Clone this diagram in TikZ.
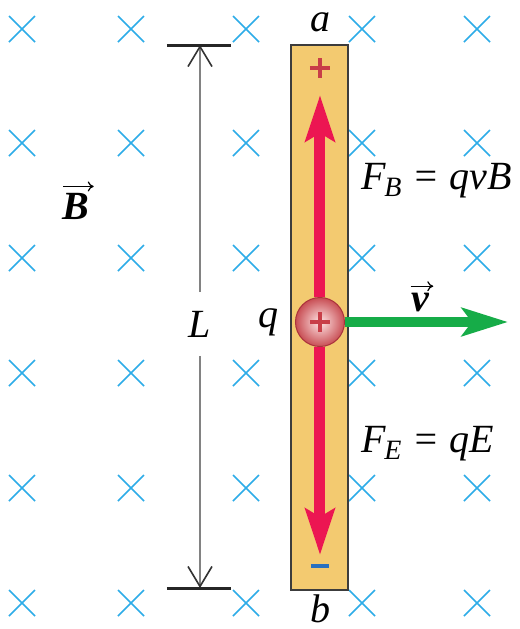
\documentclass[tikz,border=0pt]{standalone}
\usepackage{fontspec}
\setmainfont{Liberation Serif}
\usetikzlibrary{arrows.meta,positioning}
\definecolor{FieldBlue}{RGB}{45,172,232}
\definecolor{RodGold}{RGB}{243,202,112}
\definecolor{ForceRed}{RGB}{236,22,82}
\definecolor{VelGreen}{RGB}{22,172,72}
\definecolor{PlusRed}{RGB}{200,62,72}
\definecolor{MinusBlue}{RGB}{40,112,192}
\definecolor{DimGray}{RGB}{130,130,130}

\begin{document}
\begin{tikzpicture}[x=0.5pt,y=-0.5pt,font=\fontsize{20}{24}\selectfont\itshape,cross/.style={draw=FieldBlue,line width=0.85pt},rod/.style={rectangle,draw={rgb,255:red,60;green,60;blue,60},line width=0.6pt,fill=RodGold,minimum width=28.5pt,minimum height=272.5pt,inner sep=0pt},force/.style={draw=ForceRed,line width=5.5pt,-{Stealth[length=23pt,width=14.5pt,inset=4pt]}},velo/.style={draw=VelGreen,line width=5pt,-{Stealth[length=23pt,width=14pt,inset=5pt]}},dim/.style={draw=DimGray,line width=0.9pt,-{Straight Barb[length=10pt,width=12pt,color=black!80,line width=0.8pt]}},bar/.style={draw=black!85,line width=1.5pt},sign/.style={line width=1.6pt},vecmark/.style={draw=black,line width=0.6pt,-{To[length=3pt,width=5pt]}}]
\useasboundingbox[fill=white](0,0) rectangle (520,629);
% field into the page
\foreach \cx in {22,131,246,362,477}{
  \foreach \cy in {29,143,258,373,488,603}{
    \draw[cross](\cx-13,\cy-13)--(\cx+13,\cy+13) (\cx-13,\cy+13)--(\cx+13,\cy-13);
  }
}
\node[rod](rod) at (319.5,317.5){};
\node[circle,minimum size=24.5pt,inner sep=0pt,inner color=red!10,outer color={rgb,255:red,200;green,78;blue,84},draw={rgb,255:red,170;green,50;blue,60},line width=0.5pt](charge) at (320,322){};
\coordinate (tipa) at (320,95);
\coordinate (tipb) at (320,555);
\coordinate (vtip) at (508,322);
\coordinate (plusmark) at (320,68);
\coordinate (minusmark) at (320,566);
\coordinate (dimtop) at (200,45);
\coordinate (dimbot) at (200,588);
\node[inner sep=0pt,minimum height=31.5pt](len) at (200,324){L};
% forces and velocity
\draw[force](charge)--(tipa);
\draw[force](charge)--(tipb);
\draw[velo](charge)--(vtip);
\draw[sign,draw=PlusRed](charge.center)+(-10,0)--+(10,0) +(0,-10)--+(0,10);
\draw[sign,draw=PlusRed](plusmark)+(-10,0)--+(10,0) +(0,-10)--+(0,10);
\draw[sign,draw=MinusBlue](minusmark)+(-9,0)--+(9,0);
% length of rod
\draw[dim](len)--(dimtop);
\draw[dim](len)--(dimbot);
\draw[bar](dimtop)+(-33,0)--+(31,0);
\draw[bar](dimbot)+(-33,0)--+(31,0);
% labels
\node(a) at (321,22){a};
\node(b) at (321,609){b};
\node(q) at (269,322){q};
\node[anchor=west](fb) at (354,181){F\kern-0.5pt\textsubscript{B} = qvB};
\node[anchor=west](fe) at (354,444){F\kern-0.5pt\textsubscript{E} = qE};
\node[inner sep=1pt](bvec) at (76,206){\bfseries B};
\node[inner sep=1pt](vvec) at (420,302){\bfseries v};
\draw[vecmark]([xshift=1.5pt,yshift=2pt]bvec.north west)--([xshift=1pt,yshift=2pt]bvec.north east);
\draw[vecmark]([xshift=1pt,yshift=2pt]vvec.north west)--([xshift=1pt,yshift=2pt]vvec.north east);
\end{tikzpicture}
\end{document}
